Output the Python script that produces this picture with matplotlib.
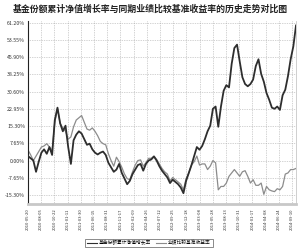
import matplotlib
matplotlib.use("Agg")
import matplotlib.pyplot as plt
import numpy as np

plt.rcParams['font.family'] = ['Noto Sans CJK SC', 'DejaVu Sans']

title = "基金份额累计净值增长率与同期业绩比较基准收益率的历史走势对比图"
fund_label = "基金份额累计净值增长率"
bench_label = "业绩比较基准收益率"

fund = [2.0, 1.0, 0.0, -5.0, -0.5, 3.5, 5.0, 3.0, 6.0, 2.5,
        18.0, 23.5, 16.5, 13.0, 15.5, 6.0, -1.5, 9.0, 11.5, 13.0,
        12.0, 9.5, 7.0, 7.5, 5.0, 3.5, 2.7, 3.5, 4.0, 2.5,
        -1.0, -3.0, -5.0, -4.0, -1.5, -5.5, -8.0, -10.5, -9.0, -6.0,
        -4.0, -2.0, -1.5, -4.5, -1.5, 0.0, 0.5, 1.8, 0.0, -2.5,
        -4.5, -6.0, -7.5, -10.0, -8.5, -9.5, -10.5, -12.0, -14.5, -9.0,
        -5.5, -2.0, 2.0, 6.0, 4.8, 6.5, 9.5, 13.0, 15.5, 23.0,
        24.0, 15.0, 24.0, 31.0, 33.5, 32.5, 43.0, 50.0, 51.5, 44.0,
        37.0, 34.0, 33.0, 34.0, 36.0, 42.0, 45.0, 38.5, 35.0, 30.0,
        27.0, 23.5, 23.0, 24.0, 22.5, 29.0, 31.5, 37.5, 45.0, 50.7,
        60.0]

bench = [4.7, 2.5, 0.0, 2.0, 4.0, 6.0, 6.5, 7.5, 6.0, 4.5,
         17.0, 23.0, 16.5, 14.5, 13.0, 9.5, 10.5, 15.0, 18.0, 19.0,
         20.0, 17.0, 14.0, 13.5, 14.5, 13.0, 11.0, 8.5, 7.5, 7.0,
         3.0, 0.0, -2.5, 1.5, -0.5, -3.0, -6.0, -8.0, -8.5, -5.0,
         -2.0, 0.0, 0.3, -2.5, -1.0, 1.0, 1.0, 2.0, 0.5, -1.5,
         -3.5, -5.0, -6.0, -9.0, -7.5, -8.5, -9.5, -10.5, -13.0, -8.0,
         -5.5, -2.0, -0.5, 2.0, -2.0, -1.5, -1.5, -4.0, -2.5, 0.0,
         -1.0, -13.0, -11.5, -11.5, -10.0, -7.0, -5.5, -4.0, -5.5, -7.0,
         -5.0, -4.5, -7.0, -10.0, -8.5, -11.0, -11.0, -10.0, -15.0, -11.5,
         -13.0, -13.5, -13.8, -12.5, -13.0, -11.5, -6.0, -5.5, -4.0, -4.0,
         -3.5]

date_labels = ["2010-05-20", "2010-08-05", "2010-10-22", "2011-01-11", "2011-03-30",
               "2011-06-15", "2011-08-31", "2011-11-17", "2012-02-09", "2012-04-26",
               "2012-07-12", "2012-09-25", "2012-12-18", "2013-03-08", "2013-05-28",
               "2013-08-13", "2013-10-31", "2014-01-17", "2014-04-08", "2014-06-24",
               "2014-09-10"]

y_ticks = [61.20, 53.55, 45.90, 38.25, 30.60, 22.95, 15.30, 7.65, 0.00, -7.65, -15.30]

fig = plt.figure(figsize=(3.0, 2.5), dpi=100)
ax = fig.add_axes([28/300, 1-204/250, 268/300, (204-21)/250])

x = np.arange(len(fund))
ax.plot(x, bench, color='#8c8c8c', lw=0.9, zorder=2)
ax.plot(x, fund, color='#2e2e2e', lw=1.3, zorder=3)

ax.set_xlim(0, len(fund) - 1)
ax.set_ylim(-19.3, 62.0)

step = 98.5 / (len(date_labels) - 1)
xt = [i * step for i in range(len(date_labels))]
ax.set_xticks(xt)
ax.set_xticklabels(date_labels, rotation=90, fontsize=3.0, color='#333333')
ax.set_yticks(y_ticks)
ax.set_yticklabels([f"{v:.2f}%" for v in y_ticks], fontsize=3.8, color='#333333')
ax.tick_params(axis='x', length=0, pad=3)
ax.tick_params(axis='y', length=0, pad=2)

ax.grid(True, color='#a8a8a8', linestyle=(0, (1, 1.5)), linewidth=0.5)
ax.set_axisbelow(True)
ax.spines['top'].set_visible(False)
ax.spines['right'].set_color('#c8c8c8')
ax.spines['right'].set_linewidth(0.6)
ax.spines['left'].set_color('#222222')
ax.spines['left'].set_linewidth(0.8)
ax.spines['bottom'].set_color('#c8c8c8')
ax.spines['bottom'].set_linewidth(2.0)

fig.text(0.5, 1-9/250, title, ha='center', va='center', fontsize=6.4, fontweight='bold', color='#222222')

h1, = ax.plot([], [], color='#2e2e2e', lw=0.8)
h2, = ax.plot([], [], color='#8c8c8c', lw=0.8)
leg = fig.legend([h1, h2], [fund_label, bench_label], loc='center', bbox_to_anchor=(149/300, 1-243/250),
                 ncol=2, fontsize=3.4, frameon=True, fancybox=False, handlelength=2.0,
                 columnspacing=1.0, handletextpad=0.5, borderpad=0.4, edgecolor='#333333')
leg.get_frame().set_linewidth(0.5)

fig.savefig("out.png", dpi=100)
